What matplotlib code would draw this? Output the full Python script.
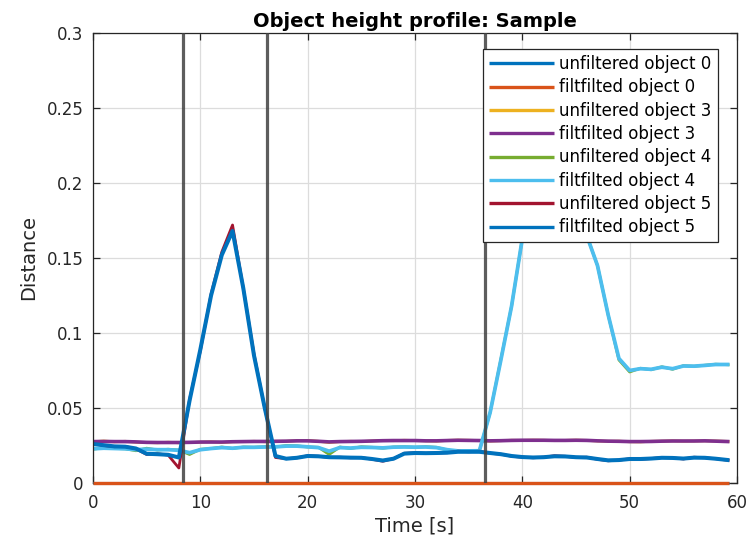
import numpy as np
import matplotlib
matplotlib.use("Agg")
import matplotlib.pyplot as plt

# ---------------- data ----------------
time_s = np.append(np.arange(0, 59, 1.0), 59.3)

unfilt_obj0 = [0.0] * 60
filt_obj0 = [0.0] * 60

unfilt_obj3 = [0.0275, 0.0280, 0.0275, 0.0278, 0.0272, 0.0270, 0.0268, 0.0272, 0.0268, 0.0270,
               0.0272, 0.0275, 0.0270, 0.0275, 0.0276, 0.0278, 0.0275, 0.0278, 0.0278, 0.0282,
               0.0284, 0.0278, 0.0270, 0.0276, 0.0278, 0.0276, 0.0280, 0.0284, 0.0282, 0.0285,
               0.0283, 0.0281, 0.0279, 0.0284, 0.0286, 0.0285, 0.0283, 0.0279, 0.0282, 0.0285,
               0.0284, 0.0286, 0.0285, 0.0283, 0.0284, 0.0286, 0.0284, 0.0280, 0.0278, 0.0279,
               0.0275, 0.0274, 0.0278, 0.0279, 0.0281, 0.0279, 0.0280, 0.0281, 0.0280, 0.0277]
filt_obj3 = [0.0276, 0.0277, 0.0276, 0.0276, 0.0274, 0.0271, 0.0270, 0.0270, 0.0270, 0.0271,
             0.0273, 0.0273, 0.0273, 0.0275, 0.0276, 0.0277, 0.0277, 0.0278, 0.0279, 0.0281,
             0.0281, 0.0278, 0.0274, 0.0276, 0.0277, 0.0278, 0.0280, 0.0282, 0.0283, 0.0283,
             0.0283, 0.0281, 0.0281, 0.0283, 0.0285, 0.0284, 0.0283, 0.0281, 0.0282, 0.0284,
             0.0285, 0.0285, 0.0285, 0.0284, 0.0284, 0.0285, 0.0284, 0.0281, 0.0279, 0.0278,
             0.0276, 0.0276, 0.0277, 0.0279, 0.0280, 0.0280, 0.0280, 0.0281, 0.0279, 0.0276]

unfilt_obj4 = [0.0225, 0.0235, 0.0230, 0.0228, 0.0215, 0.0232, 0.0220, 0.0225, 0.0220, 0.0190,
               0.0225, 0.0230, 0.0240, 0.0230, 0.0240, 0.0238, 0.0242, 0.0240, 0.0250, 0.0248,
               0.0240, 0.0238, 0.0190, 0.0240, 0.0230, 0.0242, 0.0238, 0.0232, 0.0240, 0.0242,
               0.0238, 0.0242, 0.0238, 0.0220, 0.0212, 0.0215, 0.0215, 0.0470, 0.0825, 0.1180,
               0.1630, 0.1950, 0.2070, 0.2100, 0.2050, 0.1900, 0.1650, 0.1450, 0.1120, 0.0820,
               0.0740, 0.0765, 0.0755, 0.0775, 0.0758, 0.0782, 0.0778, 0.0785, 0.0792, 0.0788]
filt_obj4 = [0.0228, 0.0232, 0.0230, 0.0228, 0.0222, 0.0226, 0.0222, 0.0222, 0.0218, 0.0202,
             0.0222, 0.0230, 0.0236, 0.0232, 0.0238, 0.0238, 0.0240, 0.0241, 0.0246, 0.0246,
             0.0241, 0.0236, 0.0212, 0.0236, 0.0233, 0.0238, 0.0237, 0.0234, 0.0239, 0.0240,
             0.0239, 0.0240, 0.0236, 0.0222, 0.0214, 0.0214, 0.0215, 0.0470, 0.0820, 0.1180,
             0.1630, 0.1950, 0.2070, 0.2100, 0.2050, 0.1900, 0.1650, 0.1450, 0.1120, 0.0830,
             0.0750, 0.0762, 0.0758, 0.0772, 0.0762, 0.0780, 0.0779, 0.0784, 0.0790, 0.0790]

unfilt_obj5 = [0.0262, 0.0250, 0.0242, 0.0244, 0.0228, 0.0190, 0.0195, 0.0186, 0.0100, 0.0560,
               0.0880, 0.1260, 0.1540, 0.1720, 0.1300, 0.0860, 0.0500, 0.0170, 0.0162, 0.0168,
               0.0182, 0.0178, 0.0170, 0.0172, 0.0168, 0.0170, 0.0158, 0.0145, 0.0162, 0.0198,
               0.0202, 0.0198, 0.0200, 0.0202, 0.0212, 0.0208, 0.0212, 0.0198, 0.0192, 0.0178,
               0.0172, 0.0168, 0.0172, 0.0182, 0.0178, 0.0170, 0.0172, 0.0158, 0.0148, 0.0152,
               0.0162, 0.0158, 0.0163, 0.0170, 0.0168, 0.0160, 0.0172, 0.0168, 0.0162, 0.0150]
filt_obj5 = [0.0260, 0.0252, 0.0244, 0.0242, 0.0230, 0.0195, 0.0192, 0.0188, 0.0170, 0.0550,
             0.0890, 0.1250, 0.1520, 0.1680, 0.1300, 0.0850, 0.0500, 0.0180, 0.0162, 0.0168,
             0.0180, 0.0178, 0.0172, 0.0171, 0.0169, 0.0168, 0.0160, 0.0150, 0.0162, 0.0196,
             0.0200, 0.0199, 0.0200, 0.0202, 0.0208, 0.0208, 0.0208, 0.0200, 0.0192, 0.0180,
             0.0173, 0.0170, 0.0172, 0.0178, 0.0177, 0.0172, 0.0170, 0.0160, 0.0151, 0.0153,
             0.0160, 0.0160, 0.0163, 0.0168, 0.0167, 0.0163, 0.0169, 0.0168, 0.0162, 0.0152]

event_times = [8.4, 16.2, 36.5]

series_labels = ["unfiltered object 0", "filtfilted object 0",
                 "unfiltered object 3", "filtfilted object 3",
                 "unfiltered object 4", "filtfilted object 4",
                 "unfiltered object 5", "filtfilted object 5"]

x_ticks = [0, 10, 20, 30, 40, 50, 60]
y_ticks = [0, 0.05, 0.1, 0.15, 0.2, 0.25, 0.3]
y_tick_labels = ["0", "0.05", "0.1", "0.15", "0.2", "0.25", "0.3"]

# ---------------- style ----------------
colors = ["#0072BD", "#D95319", "#EDB120", "#7E2F8E",
          "#77AC30", "#4DBEEE", "#A2142F", "#0072BD"]
widths = [2.2, 2.4, 2.0, 2.6, 2.0, 2.7, 2.0, 2.9]
zorders = [2.6, 2.7, 2, 2, 2, 2, 2, 2]

plt.rcParams['font.family'] = ['DejaVu Sans']
axc = "#262626"

fig = plt.figure(figsize=(7.49, 5.44), dpi=100)
ax = fig.add_axes([93/749, 1 - 483/544, 644/749, 450/544])

all_series = [unfilt_obj0, filt_obj0, unfilt_obj3, filt_obj3,
              unfilt_obj4, filt_obj4, unfilt_obj5, filt_obj5]
handles = []
for i, (s, c, w, z, lab) in enumerate(zip(all_series, colors, widths, zorders, series_labels)):
    h, = ax.plot(time_s, s, color=c, lw=w, label=lab, solid_joinstyle='round',
                 solid_capstyle='butt', clip_on=(i > 1), zorder=z)
    handles.append(h)

for et in event_times:
    ax.axvline(et, color="#404040", lw=2.3, alpha=0.85, zorder=5)

ax.set_xlim(0, 60)
ax.set_ylim(0, 0.3)
ax.set_xticks(x_ticks)
ax.set_yticks(y_ticks)
ax.set_yticklabels(y_tick_labels)
ax.grid(True, color="#dcdcdc", lw=0.9)
ax.set_axisbelow(True)

for sp in ax.spines.values():
    sp.set_color(axc)
    sp.set_linewidth(0.9)
ax.tick_params(direction='in', length=5, width=0.9, colors=axc,
               labelsize=12, top=True, right=True, pad=7)
ax.tick_params(axis='x', pad=8)

ax.set_title("Object height profile: Sample", fontsize=14, fontweight='bold', pad=4)
ax.set_xlabel("Time [s]", fontsize=14, color=axc, labelpad=3)
ax.set_ylabel("Distance", fontsize=14, color=axc, labelpad=6)

leg = ax.legend(handles=handles, loc='upper right', bbox_to_anchor=(0.970, 0.964),
                borderaxespad=0, fontsize=12, fancybox=False, framealpha=1,
                edgecolor=axc, handlelength=3.9, handletextpad=0.35,
                borderpad=0.35, labelspacing=0.32)
leg.get_frame().set_linewidth(0.9)
leg.set_zorder(10)
for lh in leg.get_lines():
    lh.set_linewidth(2.4)

fig.savefig("out.png", dpi=100)
